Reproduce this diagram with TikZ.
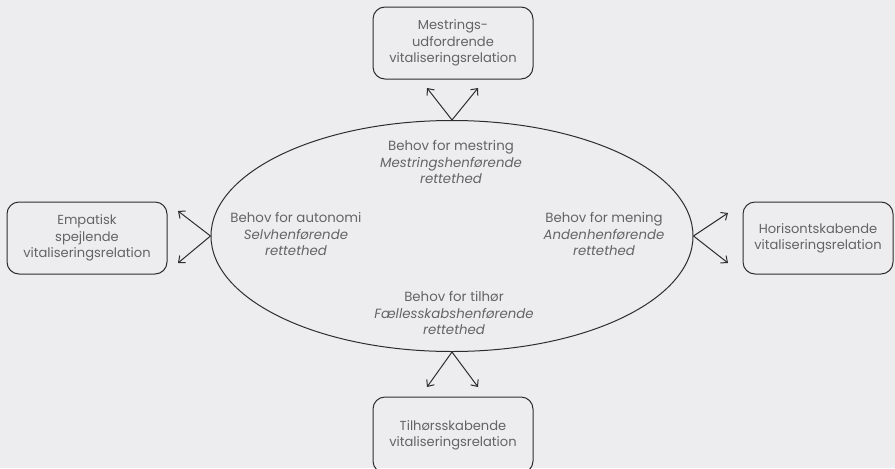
\documentclass[tikz,border=0pt]{standalone}
\usepackage{fontspec}
\setmainfont{Poppins}
\usetikzlibrary{shapes.geometric,arrows.meta}
\definecolor{bgGrey}{RGB}{237,237,239}
\definecolor{txtGrey}{RGB}{100,100,100}
\definecolor{lineGrey}{RGB}{45,45,45}
\tikzset{every picture/.style={line width=0.75pt}}
\tikzset{
  relbox/.style={draw=lineGrey, rounded corners=9pt, minimum width=120pt, minimum height=54pt,
    align=center, text=txtGrey, font=\fontsize{9.8}{12.2}\selectfont, inner sep=0.75pt},
  needtxt/.style={align=center, text=txtGrey, font=\fontsize{10}{12.2}\selectfont, inner sep=0.75pt},
  relarrow/.style={draw=lineGrey, -{Straight Barb[length=4pt,width=7pt]}}
}

\begin{document}
\begin{tikzpicture}[x=0.75pt,y=0.75pt,yscale=-1,xscale=1]
% background, sets the size of the diagram
\fill [bgGrey] (0,0) rectangle (895,468);
\useasboundingbox (0,0) rectangle (895,468);
\clip (0,0) rectangle (895,468);

%Shape: Ellipse
\node [draw=lineGrey, ellipse, minimum width=361.5pt, minimum height=173.25pt, inner sep=0pt] (needs) at (452,236) {};

% Text Node
\node [needtxt] (mestring) at (451,162) {Behov for mestring\\\textit{Mestringshenførende}\\\textit{rettethed}};
% Text Node
\node [needtxt] (autonomi) at (296,234) {Behov for autonomi\\\textit{Selvhenførende}\\\textit{rettethed}};
% Text Node
\node [needtxt] (mening) at (604,234) {Behov for mening\\\textit{Andenhenførende}\\\textit{rettethed}};
% Text Node
\node [needtxt] (tilhor) at (454,313) {Behov for tilhør\\\textit{Fællesskabshenførende}\\\textit{rettethed}};

%Rounded Rect
\node [relbox] (mestrel) at (453,43) {Mestrings-\\udfordrende\\vitaliseringsrelation};
%Rounded Rect
\node [relbox] (empatrel) at (87,238) {Empatisk\\spejlende\\vitaliseringsrelation};
%Rounded Rect
\node [relbox, minimum width=112.5pt] (horirel) at (818,238) {Horisontskabende\\vitaliseringsrelation};
%Rounded Rect
\node [relbox, minimum height=57pt] (tilhrel) at (453,435) {Tilhørsskabende\\vitaliseringsrelation};

% arrow ends
\coordinate (mestA) at (427,88);
\coordinate (mestB) at (478,88);
\coordinate (empA) at (178,211);
\coordinate (empB) at (178,263);
\coordinate (horA) at (728,213);
\coordinate (horB) at (728,263);
\coordinate (tilA) at (427,387);
\coordinate (tilB) at (478,387);

%Straight Lines
\draw [relarrow] (needs.north) -- (mestA);
\draw [relarrow] (needs.north) -- (mestB);
\draw [relarrow] (needs.west) -- (empA);
\draw [relarrow] (needs.west) -- (empB);
\draw [relarrow] (needs.east) -- (horA);
\draw [relarrow] (needs.east) -- (horB);
\draw [relarrow] (needs.south) -- (tilA);
\draw [relarrow] (needs.south) -- (tilB);

\end{tikzpicture}
\end{document}
